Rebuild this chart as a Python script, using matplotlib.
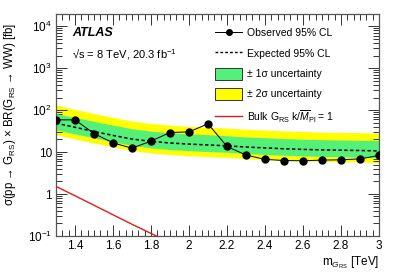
import matplotlib
matplotlib.use("Agg")
import matplotlib.pyplot as plt
from matplotlib.ticker import FixedLocator, FixedFormatter, MultipleLocator, LogLocator, NullFormatter
from matplotlib.lines import Line2D
from matplotlib.patches import Patch

plt.rcParams['font.family'] = ['Liberation Sans', 'DejaVu Sans']
plt.rcParams['mathtext.fontset'] = 'custom'
plt.rcParams['mathtext.rm'] = 'Liberation Sans'
plt.rcParams['mathtext.it'] = 'Liberation Sans:italic'
plt.rcParams['mathtext.bf'] = 'Liberation Sans:bold'

mass = [1.3, 1.4, 1.5, 1.6, 1.7, 1.8, 1.9, 2.0, 2.1, 2.2, 2.3, 2.4, 2.5, 2.6, 2.7, 2.8, 2.9, 3.0]
observed = [58.7, 58.7, 27.7, 16.6, 12.4, 18.3, 29.3, 30.4, 47.2, 13.6, 8.5, 6.7, 6.3, 6.2, 6.45, 6.55, 6.9, 8.3]
expected = [49, 39, 31, 25, 20.5, 18, 16.5, 15.5, 14.8, 14.1, 13.2, 12.6, 12.0, 11.6, 11.3, 11.1, 10.9, 10.7]
one_sig_lo = [34, 27, 22, 17.5, 14.5, 12.6, 11.5, 10.8, 10.3, 9.9, 9.2, 8.8, 8.4, 8.1, 7.9, 7.7, 7.5, 7.3]
one_sig_hi = [83, 67, 54, 44, 36, 31.5, 29, 27, 26, 24.5, 23, 22, 21, 20.3, 19.8, 19.4, 19.1, 18.8]
two_sig_lo = [26, 20.5, 16.4, 13.3, 10.9, 9.5, 8.7, 8.2, 7.8, 7.5, 7.0, 6.7, 6.4, 6.1, 6.0, 5.9, 5.8, 5.6]
two_sig_hi = [132, 104, 83, 67, 55, 48, 44, 41, 39, 37.5, 35, 33.5, 32, 31, 30, 29.5, 29, 28.3]
theory_mass = [1.3, 1.4, 1.5, 1.6, 1.7, 1.8, 1.9, 2.0]
theory_xsec = [1.52, 0.91, 0.54, 0.32, 0.19, 0.115, 0.07, 0.042]

ytick_vals = [0.1, 1, 10, 100, 1000, 10000]
ytick_labels = ['$10^{-1}$', '1', '10', '$10^{2}$', '$10^{3}$', '$10^{4}$']
xtick_vals = [1.4, 1.6, 1.8, 2.0, 2.2, 2.4, 2.6, 2.8, 3.0]
xtick_labels = ['1.4', '1.6', '1.8', '2', '2.2', '2.4', '2.6', '2.8', '3']

fig = plt.figure(figsize=(3.99, 2.72), dpi=100)
ax = fig.add_axes([0.1404, 0.1324, 0.8096, 0.8161])

yellow = '#ffff00'
green = '#55f07a'
ax.fill_between(mass, two_sig_lo, two_sig_hi, color=yellow, lw=0, zorder=1)
ax.fill_between(mass, one_sig_lo, one_sig_hi, color=green, lw=0, zorder=2)
ax.plot(mass, expected, color='black', ls=(0, (2.2, 1.6)), lw=1.1, zorder=3)
ax.plot(mass, observed, color='black', lw=0.7, marker='o', ms=5, zorder=4)
ax.plot(theory_mass, theory_xsec, color='#dd1c1c', lw=1.0, zorder=3)

ax.set_yscale('log')
ax.set_xlim(1.3, 3.0)
ax.set_ylim(0.1, 19600)

ax.yaxis.set_major_locator(FixedLocator(ytick_vals))
ax.yaxis.set_major_formatter(FixedFormatter(ytick_labels))
ax.yaxis.set_minor_locator(LogLocator(base=10, subs=range(2, 10), numticks=20))
ax.yaxis.set_minor_formatter(NullFormatter())
ax.xaxis.set_major_locator(FixedLocator(xtick_vals))
ax.xaxis.set_major_formatter(FixedFormatter(xtick_labels))
ax.xaxis.set_minor_locator(MultipleLocator(0.2 / 6))

ax.tick_params(which='both', direction='in', top=True, right=True, labelsize=8.5, width=0.7, color='#333333')
ax.tick_params(which='major', length=8)
ax.tick_params(which='minor', length=4)
ax.tick_params(axis='x', pad=3)
ax.tick_params(axis='y', pad=3)
for sp in ax.spines.values():
    sp.set_linewidth(0.9)
    sp.set_color('#555555')

ax.set_ylabel('σ(pp → G$_{\\mathrm{RS}}$) × BR(G$_{\\mathrm{RS}}$ → WW) [fb]', fontsize=8.3)
ax.yaxis.set_label_coords(-0.118, 0.55)
ax.set_xlabel(r'm$_{G_{\mathrm{RS}}}$ [TeV]', fontsize=8.5, ha='right')
ax.xaxis.set_label_coords(1.0, -0.085)

ax.text(0.05, 0.915, 'ATLAS', transform=ax.transAxes, fontsize=9, fontweight='bold', fontstyle='italic', va='center')
ax.text(0.05, 0.815, '√s = 8 TeV, 20.3 fb$^{-1}$', transform=ax.transAxes, fontsize=8, va='center')

handles = [
    Line2D([], [], color='black', lw=0.7, marker='o', ms=4),
    Line2D([], [], color='black', ls=(0, (2, 1.5)), lw=1.0),
    Patch(facecolor=green, edgecolor='#333333', lw=0.7),
    Patch(facecolor=yellow, edgecolor='#333333', lw=0.7),
    Line2D([], [], color='#dd1c1c', lw=1.0),
]
labels = ['Observed 95% CL', 'Expected 95% CL', '± 1σ uncertainty', '± 2σ uncertainty',
          r'Bulk G$_{\mathrm{RS}}$ k/$\overline{M}_{\mathrm{Pl}}$ = 1']
leg = ax.legend(handles, labels, loc='upper left', bbox_to_anchor=(0.47, 0.975), frameon=False, fontsize=7.5,
                handlelength=2.6, handleheight=1.4, labelspacing=0.8, handletextpad=0.5, borderaxespad=0.3)

fig.savefig('out.png', dpi=100)
